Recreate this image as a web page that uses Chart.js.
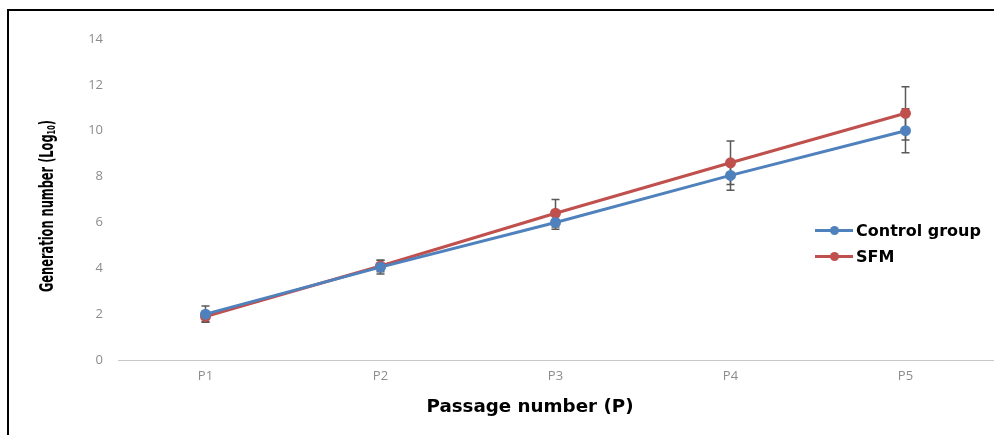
<!DOCTYPE html>
<html>
<head>
<meta charset="utf-8">
<script src="https://cdn.jsdelivr.net/npm/chart.js@4.4.0/dist/chart.umd.min.js"></script>
<style>
    body { margin: 0; background: #fff; }
    #wrap { position: relative; width: 994px; height: 435px; }
    #frame { position: absolute; left: 7px; top: 9px; right: 0; bottom: 0; border-top: 2px solid #000; border-left: 2px solid #000; pointer-events: none; }
    #legend { position: absolute; left: 815px; top: 217px; font: bold 16px "DejaVu Sans", sans-serif; color: #000; }
    .item { display: flex; align-items: center; height: 26px; }
    .swatch { position: relative; width: 38px; height: 3px; margin-right: 3px; }
    .swatch span { position: absolute; left: 15px; top: -3px; width: 9px; height: 9px; border-radius: 50%; }
</style>
</head>
<body>
<div id="wrap">
    <canvas id="growthChart" width="994" height="435"></canvas>
    <div id="frame"></div>
    <div id="legend"></div>
</div>
<script>
const passages = ['P1', 'P2', 'P3', 'P4', 'P5'];
const seriesNames = ['Control group', 'SFM'];
const seriesColors = ['#4f81bd', '#c0504d'];
const controlValues = [2.0, 4.05, 6.0, 8.05, 10.0];
const controlErrors = [0.35, 0.3, 0.3, 0.65, 0.96];
const sfmValues = [1.9, 4.1, 6.4, 8.6, 10.76];
const sfmErrors = [0.22, 0.25, 0.6, 0.95, 1.16];
const yTicks = [0, 2, 4, 6, 8, 10, 12, 14];

const errorBars = {
    id: 'errorBars',
    beforeDatasetsDraw(chart) {
        const ctx = chart.ctx;
        const y = chart.scales.y;
        const errs = [controlErrors, sfmErrors];
        ctx.save();
        ctx.strokeStyle = '#595959';
        ctx.lineWidth = 1.5;
        chart.data.datasets.forEach((ds, i) => {
            chart.getDatasetMeta(i).data.forEach((pt, j) => {
                const v = ds.data[j];
                const top = y.getPixelForValue(v + errs[i][j]);
                const bot = y.getPixelForValue(v - errs[i][j]);
                ctx.beginPath();
                ctx.moveTo(pt.x, top);
                ctx.lineTo(pt.x, bot);
                ctx.moveTo(pt.x - 4, top);
                ctx.lineTo(pt.x + 4, top);
                ctx.moveTo(pt.x - 4, bot);
                ctx.lineTo(pt.x + 4, bot);
                ctx.stroke();
            });
        });
        ctx.restore();
    }
};

// axis titles drawn by hand: the y one is condensed and has a real subscript,
// the x one sits left of the plot centre like in the original
const axisTitles = {
    id: 'axisTitles',
    afterDraw(chart) {
        const ctx = chart.ctx;
        const big = 'bold 19px "DejaVu Sans", sans-serif';
        const small = 'bold 11px "DejaVu Sans", sans-serif';
        const main = 'Generation number (Log';
        const sub = '10';
        ctx.save();
        ctx.fillStyle = '#000';
        ctx.font = big;
        const w1 = ctx.measureText(main).width;
        const w3 = ctx.measureText(')').width;
        ctx.font = small;
        const w2 = ctx.measureText(sub).width;
        const total = w1 + w2 + w3;
        ctx.translate(48, 206);
        ctx.rotate(-Math.PI / 2);
        ctx.scale(172 / total, 1);
        ctx.textBaseline = 'middle';
        ctx.textAlign = 'left';
        let x = -total / 2;
        ctx.font = big;
        ctx.fillText(main, x, 0);
        x += w1;
        ctx.font = small;
        ctx.fillText(sub, x, 4);
        x += w2;
        ctx.font = big;
        ctx.fillText(')', x, 0);
        ctx.restore();

        ctx.save();
        ctx.fillStyle = '#000';
        ctx.font = 'bold 17px "DejaVu Sans", sans-serif';
        ctx.textAlign = 'center';
        ctx.textBaseline = 'middle';
        const t = 'Passage number (P)';
        const w = ctx.measureText(t).width;
        ctx.translate(530, 408);
        ctx.scale(207 / w, 1);
        ctx.fillText(t, 0, 0);
        ctx.restore();
    }
};

const ctx = document.getElementById('growthChart').getContext('2d');
new Chart(ctx, {
    type: 'line',
    data: {
        labels: passages,
        datasets: [controlValues, sfmValues].map((vals, i) => ({
            label: seriesNames[i],
            data: vals,
            borderColor: seriesColors[i],
            backgroundColor: seriesColors[i],
            borderWidth: 3,
            pointRadius: 4,
            pointHoverRadius: 4,
            tension: 0
        }))
    },
    options: {
        responsive: false,
        animation: false,
        layout: { autoPadding: false, padding: { top: 39, right: 1, left: 0, bottom: 0 } },
        plugins: {
            legend: { display: false },
            tooltip: { enabled: false }
        },
        scales: {
            x: {
                offset: true,
                grid: { display: false },
                border: { display: true, color: '#c8c8c8', width: 1 },
                ticks: { color: '#8c8c8c', font: { family: 'Open Sans', size: 13 }, padding: 0 },
                afterFit(scale) {
                    scale.height = 75;
                    scale.paddingLeft = 0;
                    scale.paddingRight = 0;
                }
            },
            y: {
                min: 0,
                max: 14,
                afterBuildTicks(scale) { scale.ticks = yTicks.map(v => ({ value: v })); },
                grid: { display: false },
                border: { display: false },
                ticks: { color: '#8c8c8c', font: { family: 'Open Sans', size: 13 }, padding: 7 },
                afterFit(scale) { scale.width = 118; }
            }
        }
    },
    plugins: [errorBars, axisTitles]
});

const legend = document.getElementById('legend');
seriesNames.forEach((name, i) => {
    const item = document.createElement('div');
    item.className = 'item';
    item.innerHTML = '<div class="swatch" style="background:' + seriesColors[i] + '"><span style="background:' + seriesColors[i] + '"></span></div>' + name;
    legend.appendChild(item);
});
</script>
</body>
</html>
